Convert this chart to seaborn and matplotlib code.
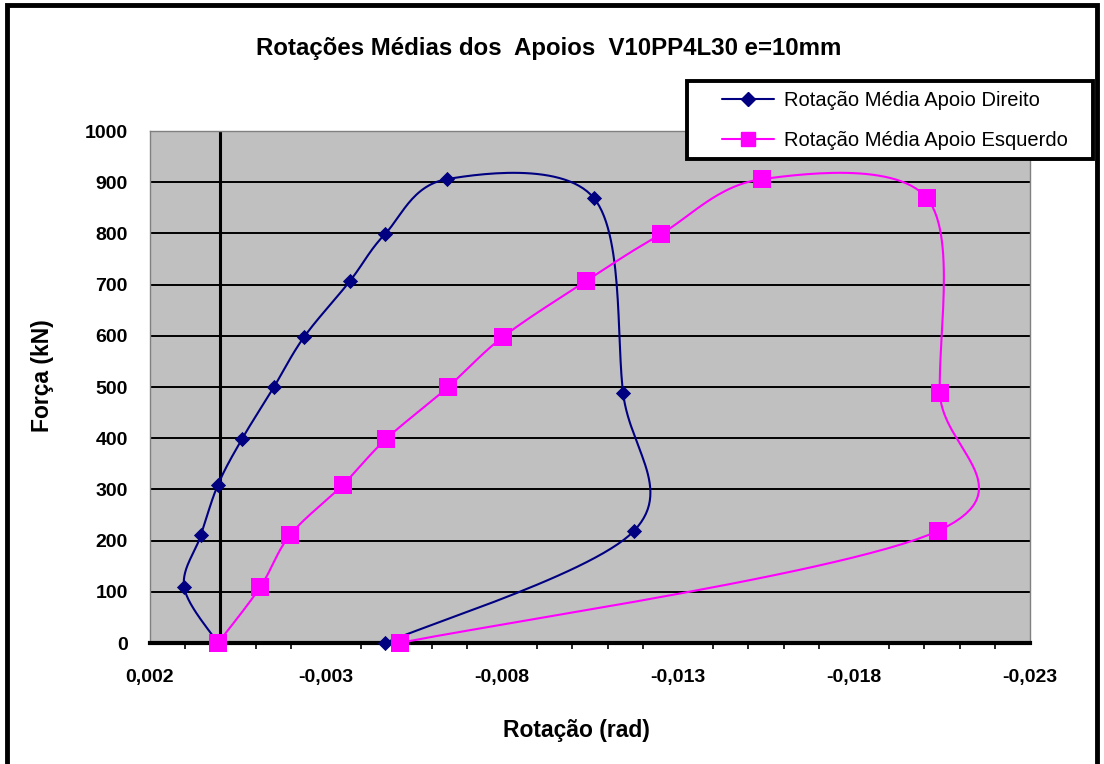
import numpy as np
import pandas as pd
import matplotlib
matplotlib.use('Agg')
import matplotlib.pyplot as plt
import matplotlib.patches as patches
from matplotlib.lines import Line2D
from matplotlib.ticker import MultipleLocator, FuncFormatter
import seaborn as sns

# valores (ordem em que a curva passa pelos pontos)
forca = [0, 219, 488, 869, 906, 799, 707, 598, 500, 398, 309, 211, 109, 0]
rot_direito = [-0.00468, -0.01175, -0.01144, -0.01061, -0.00644, -0.00468, -0.00368,
               -0.00238, -0.00152, -0.00061, 0.00007, 0.00055, 0.00103, 0.00007]
rot_esquerdo = [-0.00510, -0.02039, -0.02044, -0.02007, -0.01539, -0.01252, -0.01039,
                -0.00803, -0.00647, -0.00470, -0.00348, -0.00198, -0.00113, 0.00007]

xmin, xmax = 0.002, -0.023
ymin, ymax = 0, 1000


def suavizar(xs, ys, n=30):
    # curva suave estilo Excel (Bezier / Catmull-Rom) calculada no espaco do ecra
    px = (np.array(xs) - xmin) / (xmax - xmin) * 880
    py = (np.array(ys) - ymin) / (ymax - ymin) * 512
    P = np.column_stack([px, py])
    P = np.vstack([P[0], P, P[-1]])
    out = []
    t = np.linspace(0, 1, n)[:, None]
    for i in range(1, len(P) - 2):
        p0, p1, p2, p3 = P[i - 1], P[i], P[i + 1], P[i + 2]
        c1 = p1 + (p2 - p0) / 6
        c2 = p2 - (p3 - p1) / 6
        seg = ((1 - t) ** 3) * p1 + 3 * ((1 - t) ** 2) * t * c1 + 3 * (1 - t) * t ** 2 * c2 + t ** 3 * p2
        out.append(seg)
    out = np.vstack(out)
    sx = out[:, 0] / 880 * (xmax - xmin) + xmin
    sy = out[:, 1] / 512 * (ymax - ymin) + ymin
    return sx, sy


sns.set_style('white')
plt.rcParams['font.family'] = ['Liberation Sans', 'DejaVu Sans']
plt.rcParams['text.color'] = 'black'
plt.rcParams['axes.labelcolor'] = 'black'
plt.rcParams['xtick.color'] = 'black'
plt.rcParams['ytick.color'] = 'black'

fig = plt.figure(figsize=(11.04, 7.64), dpi=100)
ax = fig.add_axes([150 / 1104, 1 - 643 / 764, 880 / 1104, 512 / 764])
ax.set_facecolor('#C0C0C0')

azul = '#000080'
rosa = '#FF00FF'

for rot, cor, mk, ms in [(rot_direito, azul, 'D', 60), (rot_esquerdo, rosa, 's', 150)]:
    sx, sy = suavizar(rot, forca)
    curva = pd.DataFrame({'x': sx, 'y': sy})
    sns.lineplot(data=curva, x='x', y='y', sort=False, estimator=None, color=cor,
                 linewidth=1.5, ax=ax, zorder=3)
    pts = pd.DataFrame({'x': rot, 'y': forca})
    sns.scatterplot(data=pts, x='x', y='y', marker=mk, s=ms, color=cor,
                    edgecolor=cor, linewidth=0, ax=ax, zorder=4, clip_on=False)

ax.set_xlim(xmin, xmax)
ax.set_ylim(ymin, ymax)

ax.set_yticks(np.arange(0, 1001, 100))
ax.yaxis.grid(True, color='black', linewidth=1.4)
ax.xaxis.grid(False)
ax.set_axisbelow(True)
ax.axvline(0, color='black', linewidth=2.2, zorder=2)

ax.xaxis.set_minor_locator(MultipleLocator(0.001))
ax.set_xticks([0.002, -0.003, -0.008, -0.013, -0.018, -0.023])
ax.xaxis.set_major_formatter(FuncFormatter(lambda v, p: ('%.3f' % v).replace('.', ',')))
ax.tick_params(axis='x', which='major', direction='out', length=6, width=1.2,
               color='black', pad=13, labelsize=14)
ax.tick_params(axis='x', which='minor', direction='out', length=4, width=1.2,
               color='black', bottom=True)
ax.tick_params(axis='y', length=0, pad=16, labelsize=14)
for lab in ax.get_xticklabels() + ax.get_yticklabels():
    lab.set_fontweight('bold')

for s in ['top', 'right', 'left']:
    ax.spines[s].set_color('#808080')
    ax.spines[s].set_linewidth(1)
ax.spines['bottom'].set_color('black')
ax.spines['bottom'].set_linewidth(3)

xl = ax.set_xlabel('Rotação (rad)', fontsize=16.5, fontweight='bold')
yl = ax.set_ylabel('Força (kN)', fontsize=16.5, fontweight='bold')
xl.set_va('center')
yl.set_va('center')
ax.xaxis.set_label_coords((576 - 150) / 880, (643 - 730) / 512)
ax.yaxis.set_label_coords((42 - 150) / 880, (643 - 376) / 512)

fig.text(549 / 1104, 1 - 48 / 764, 'Rotações Médias dos  Apoios  V10PP4L30 e=10mm',
         ha='center', va='center', fontsize=17.3, fontweight='bold')

# caixa da legenda desenhada a parte
fig.patches.append(patches.Rectangle((687 / 1104, 1 - 159 / 764), 406 / 1104, 78 / 764,
                                     transform=fig.transFigure, facecolor='white',
                                     edgecolor='black', linewidth=2.8, zorder=5))
handles = [Line2D([], [], color=azul, marker='D', markersize=7.5, linewidth=1.5),
           Line2D([], [], color=rosa, marker='s', markersize=10, linewidth=1.5)]
leg = fig.legend(handles, ['Rotação Média Apoio Direito', 'Rotação Média Apoio Esquerdo'],
                 loc='upper left', bbox_to_anchor=(722 / 1104, 1 - 91 / 764),
                 fontsize=14.5, frameon=False, handlelength=2.6, labelspacing=1.05,
                 borderpad=0, handletextpad=0.5, borderaxespad=0)
leg.set_zorder(6)

fig.patches.append(patches.Rectangle((7 / 1104, -0.05), 1090 / 1104, 1.05 - 5 / 764,
                                     transform=fig.transFigure, fill=False,
                                     edgecolor='black', linewidth=3.5))

fig.savefig('out.png', dpi=100)
